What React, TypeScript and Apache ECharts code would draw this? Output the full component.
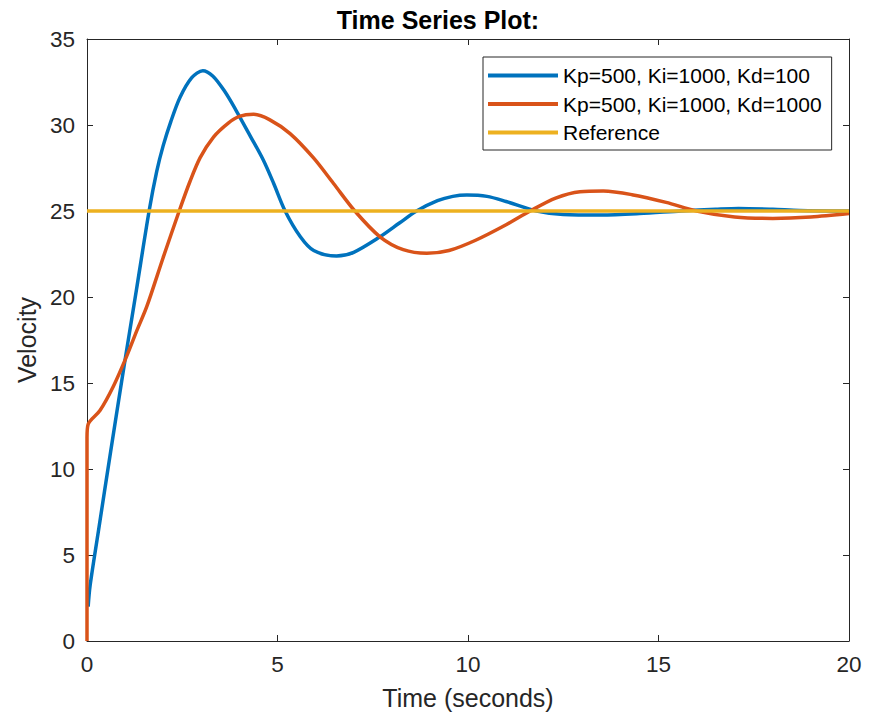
import React, { useEffect, useRef } from "react";
import * as echarts from "echarts";

const xTicks = [0, 5, 10, 15, 20];
const yTicks = [0, 5, 10, 15, 20, 25, 30, 35];

const seriesNames = [
  "Kp=500, Ki=1000, Kd=100",
  "Kp=500, Ki=1000, Kd=1000",
  "Reference",
];

const blueData: [number, number][] = [
  [0.03, 2.0], [0.08, 3.2], [0.3, 6.4], [0.62, 11.0], [0.91, 15.1], [1.04, 16.9],
  [1.3, 20.45], [1.63, 25.0], [1.83, 27.3], [2.0, 28.8], [2.2, 30.2], [2.44, 31.6],
  [2.75, 32.75], [3.04, 33.16], [3.3, 32.85], [3.6, 32.0], [3.9, 30.9], [4.3, 29.3],
  [4.63, 27.95], [4.9, 26.6], [5.2, 25.0], [5.6, 23.5], [5.95, 22.7], [6.55, 22.38],
  [7.0, 22.6], [7.69, 23.5], [8.2, 24.3], [8.65, 25.0], [9.2, 25.6], [9.6, 25.85],
  [9.97, 25.93], [10.5, 25.85], [11.0, 25.55], [11.8, 25.0], [12.5, 24.8],
  [13.5, 24.77], [14.5, 24.85], [15.6, 25.0], [16.5, 25.1], [17.1, 25.15],
  [18.0, 25.1], [18.7, 25.03], [20, 25.0],
];

const orangeData: [number, number][] = [
  [0, 0], [0, 11.8], [0.03, 12.6], [0.34, 13.4], [0.69, 14.8], [1.04, 16.55],
  [1.3, 18.0], [1.57, 19.45], [2.0, 22.3], [2.42, 25.0], [2.7, 26.7], [2.97, 28.1],
  [3.32, 29.3], [3.7, 30.1], [4.0, 30.5], [4.37, 30.62], [4.8, 30.3], [5.33, 29.5],
  [5.94, 28.1], [6.47, 26.6], [7.03, 25.0], [7.69, 23.5], [8.3, 22.75], [8.92, 22.54],
  [9.5, 22.7], [10.2, 23.3], [11.0, 24.2], [11.63, 25.0], [12.3, 25.75],
  [12.94, 26.12], [13.55, 26.16], [14.3, 25.95], [15.2, 25.5], [16.0, 25.0],
  [17.0, 24.65], [18.0, 24.57], [19.0, 24.65], [20, 24.85],
];

const referenceData: [number, number][] = [
  [0, 25], [20, 25],
];

const colors = ["#0072BD", "#D95319", "#EDB120"];

export default function App() {
  const ref = useRef<HTMLDivElement>(null);
  useEffect(() => {
    if (!ref.current) return;
    const chart = echarts.init(ref.current, undefined, { renderer: "svg" });
    const font = "Liberation Sans, Arial, Helvetica, sans-serif";
    const axisColor = "#262626";
    const axisLine = { show: true, onZero: false, lineStyle: { color: axisColor, width: 1 } };
    const axisTick = { show: true, inside: true, length: 6, lineStyle: { color: axisColor } };
    const baseX = {
      type: "value" as const,
      min: xTicks[0],
      max: xTicks[xTicks.length - 1],
      interval: 5,
      splitLine: { show: false },
      axisLine,
      axisTick,
    };
    const baseY = {
      type: "value" as const,
      min: yTicks[0],
      max: yTicks[yTicks.length - 1],
      interval: 5,
      splitLine: { show: false },
      axisLine,
      axisTick,
    };
    chart.setOption({
      animation: false,
      backgroundColor: "#ffffff",
      title: {
        text: "Time Series Plot:",
        left: "center",
        top: 2,
        textStyle: { fontFamily: font, fontSize: 25, fontWeight: "bold", color: "#000" },
      },
      grid: { left: 87, top: 39, width: 762, height: 602, containLabel: false },
      legend: {
        orient: "vertical",
        left: 483,
        top: 57,
        padding: [8, 10, 7, 5],
        itemGap: 7.5,
        itemWidth: 70,
        itemHeight: 4,
        icon: "rect",
        borderColor: axisColor,
        borderWidth: 1,
        backgroundColor: "#fff",
        data: seriesNames,
        textStyle: { fontFamily: font, fontSize: 21, color: "#000", lineHeight: 21 },
      },
      xAxis: [
        {
          ...baseX,
          position: "bottom",
          name: "Time (seconds)",
          nameLocation: "middle",
          nameGap: 44,
          nameTextStyle: { fontFamily: font, fontSize: 25, color: axisColor },
          axisLabel: { fontFamily: font, fontSize: 22.5, color: axisColor, margin: 12 },
        },
        { ...baseX, position: "top", axisLabel: { show: false } },
      ],
      yAxis: [
        {
          ...baseY,
          position: "left",
          name: "Velocity",
          nameLocation: "middle",
          nameGap: 40,
          nameTextStyle: { fontFamily: font, fontSize: 25, color: axisColor },
          axisLabel: { fontFamily: font, fontSize: 22.5, color: axisColor, margin: 12 },
        },
        { ...baseY, position: "right", axisLabel: { show: false } },
      ],
      series: [
        {
          name: seriesNames[0], type: "line", data: blueData, smooth: 0.3,
          showSymbol: false, lineStyle: { color: colors[0], width: 3.5 }, itemStyle: { color: colors[0] },
          xAxisIndex: 0, yAxisIndex: 0,
        },
        {
          name: seriesNames[1], type: "line", data: orangeData, smooth: 0.3,
          showSymbol: false, lineStyle: { color: colors[1], width: 3.5 }, itemStyle: { color: colors[1] },
          xAxisIndex: 0, yAxisIndex: 0,
        },
        {
          name: seriesNames[2], type: "line", data: referenceData,
          showSymbol: false, lineStyle: { color: colors[2], width: 3.5 }, itemStyle: { color: colors[2] },
          xAxisIndex: 0, yAxisIndex: 0,
        },
      ],
    });
    return () => chart.dispose();
  }, []);
  return (
    <div
      ref={ref}
      style={{ position: "fixed", left: 0, top: 0, width: 876, height: 715, background: "#fff" }}
    />
  );
}
